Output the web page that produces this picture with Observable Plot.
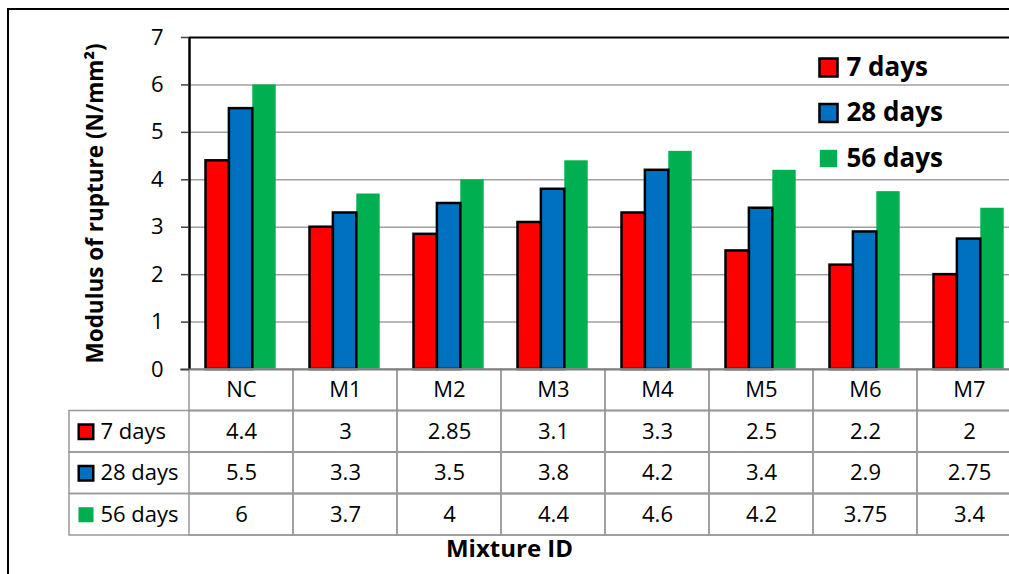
<!DOCTYPE html>
<html>
<head>
<meta charset="utf-8">
<script src="https://cdn.jsdelivr.net/npm/d3@7"></script>
<script src="https://cdn.jsdelivr.net/npm/@observablehq/plot@0.6"></script>
<style>
  html, body { margin: 0; padding: 0; background: #fff; overflow: hidden; }
  #chart { position: relative; width: 1009px; height: 574px; overflow: hidden; }
  #chart svg { display: block; overflow: hidden; }
  #border { position: absolute; left: 7px; top: 8px; width: 2000px; height: 2000px;
            border: 2.5px solid #000; pointer-events: none; }
</style>
</head>
<body>
<div id="chart"><div id="border"></div></div>
<script>
// Modulus of rupture by mixture and curing age
const mixtures = ["NC", "M1", "M2", "M3", "M4", "M5", "M6", "M7"];
const ages = ["7 days", "28 days", "56 days"];
const day7  = [4.4, 3, 2.85, 3.1, 3.3, 2.5, 2.2, 2];
const day28 = [5.5, 3.3, 3.5, 3.8, 4.2, 3.4, 2.9, 2.75];
const day56 = [6, 3.7, 4, 4.4, 4.6, 4.2, 3.75, 3.4];
const yTicks = [0, 1, 2, 3, 4, 5, 6, 7];
const ageColors = ["#ff0000", "#0070c0", "#00b050"];
const ageStroke = ["#000", "#000", "none"];

// layout
const W = 1009, H = 574;
const mLeft = 189, mRight = -12, mTop = 37;
const chartPx = 332;          // height of the 0..7 value range
const rowPx = 41.5;           // data-table row height
const tableRows = ages.length + 1;
const yMax = d3.max(yTicks);
const rowU = yMax * rowPx / chartPx;          // one table row in y units
const yMin = -tableRows * rowU;
const mBottom = H - mTop - chartPx - tableRows * rowPx;
const bw = (W - mLeft - mRight) / mixtures.length;
const groupPad = 16.5, barW = 23.4;
const labelColW = 120;
const font = "'Open Sans', sans-serif";
const gridColor = "#a0a0a0";
const tableColor = "#999";

const series = [day7, day28, day56];
const bars = ages.flatMap((age, s) =>
  mixtures.map((m, i) => ({mixture: m, age, s, value: series[s][i]})));

// table cells: header row (r = 0) plus one row per age
const cells = d3.range(tableRows).flatMap(r =>
  mixtures.map((m, i) => ({mixture: m, r, text: r === 0 ? m : String(series[r - 1][i])})));
const rowTop = r => -r * rowU;
const rowMid = r => -(r + 0.5) * rowU;

const marks = [];

// gridlines and plot-area border
marks.push(Plot.ruleY(yTicks.filter(t => t > 0 && t < yMax), {stroke: gridColor, strokeWidth: 1.5}));
marks.push(Plot.ruleY([yMax], {stroke: "#000", strokeWidth: 2}));

// bars (green first so the outlined bars sit on top)
[2, 0, 1].forEach(s => {
  marks.push(Plot.barY(bars.filter(d => d.s === s), {
    x: "mixture", y: "value",
    fill: ageColors[s], stroke: ageStroke[s], strokeWidth: 2.5,
    insetLeft: groupPad + s * barW,
    insetRight: bw - groupPad - (s + 1) * barW
  }));
});

// data table: full-width rows (with the label column), then per-mixture cells
marks.push(Plot.rect(d3.range(1, tableRows), {
  y1: r => rowTop(r), y2: r => rowTop(r + 1),
  insetLeft: -labelColW, fill: "none", stroke: tableColor, strokeWidth: 1.5
}));
marks.push(Plot.rect(cells, {
  x: "mixture", y1: d => rowTop(d.r), y2: d => rowTop(d.r + 1),
  fill: "none", stroke: tableColor, strokeWidth: 1.5
}));
marks.push(Plot.text(cells, {
  x: "mixture", y: d => rowMid(d.r), text: "text",
  fontSize: 22, fill: "#000"
}));

// row labels with swatches
ages.forEach((age, s) => {
  marks.push(Plot.dot([age], {
    y: () => rowMid(s + 1), frameAnchor: "left", dx: -103.5,
    symbol: "square", r: s < 2 ? 8.2 : 8.5,
    fill: ageColors[s], stroke: ageStroke[s], strokeWidth: 2.5
  }));
  marks.push(Plot.text([age], {
    y: () => rowMid(s + 1), frameAnchor: "left", dx: -89,
    text: d => d, textAnchor: "start", lineAnchor: "middle", fontSize: 22, fill: "#000"
  }));
});

// axes
marks.push(Plot.ruleX(["NC"], {x: d => d, dx: -bw / 2, y1: 0, y2: yMax, stroke: "#000", strokeWidth: 2.5}));
marks.push(Plot.ruleY([0], {stroke: "#7f7f7f", strokeWidth: 2, insetLeft: -9}));
marks.push(Plot.axisY(yTicks, {
  anchor: "left", tickSize: 8, tickPadding: 18, fontSize: 22,
  stroke: "#404040", strokeWidth: 1.5, fill: "#000", label: null
}));
marks.push(Plot.text(["Modulus of rupture (N/mm²)"], {
  y: () => yMax / 2, frameAnchor: "left", dx: -94, rotate: -90,
  textAnchor: "middle", lineAnchor: "middle",
  text: d => d, fontSize: 22.5, fontWeight: "bold", fill: "#000"
}));
marks.push(Plot.text(["Mixture ID"], {
  x: null, y: null, frameAnchor: "bottom-left", dx: 320, dy: 14,
  textAnchor: "middle", lineAnchor: "middle",
  text: d => d, fontSize: 24, fontWeight: "bold", fill: "#000"
}));

// legend
ages.forEach((age, s) => {
  const dy = 30 + s * 45.5;
  marks.push(Plot.dot([age], {
    x: null, y: null, frameAnchor: "top-right", dx: -193, dy,
    symbol: "square", r: s < 2 ? 10.2 : 9.8,
    fill: ageColors[s], stroke: ageStroke[s], strokeWidth: 2.5
  }));
  marks.push(Plot.text([age], {
    x: null, y: null, frameAnchor: "top-right", dx: -175, dy,
    text: d => d, textAnchor: "start", lineAnchor: "middle",
    fontSize: 26, fontWeight: "bold", fill: "#000"
  }));
});

const chart = Plot.plot({
  width: W, height: H,
  marginLeft: mLeft, marginRight: mRight, marginTop: mTop, marginBottom: mBottom,
  x: {domain: mixtures, padding: 0, axis: null},
  y: {domain: [yMin, yMax], axis: null},
  style: {fontFamily: font, background: "transparent", color: "#000"},
  marks
});
document.getElementById("chart").prepend(chart);
</script>
</body>
</html>
